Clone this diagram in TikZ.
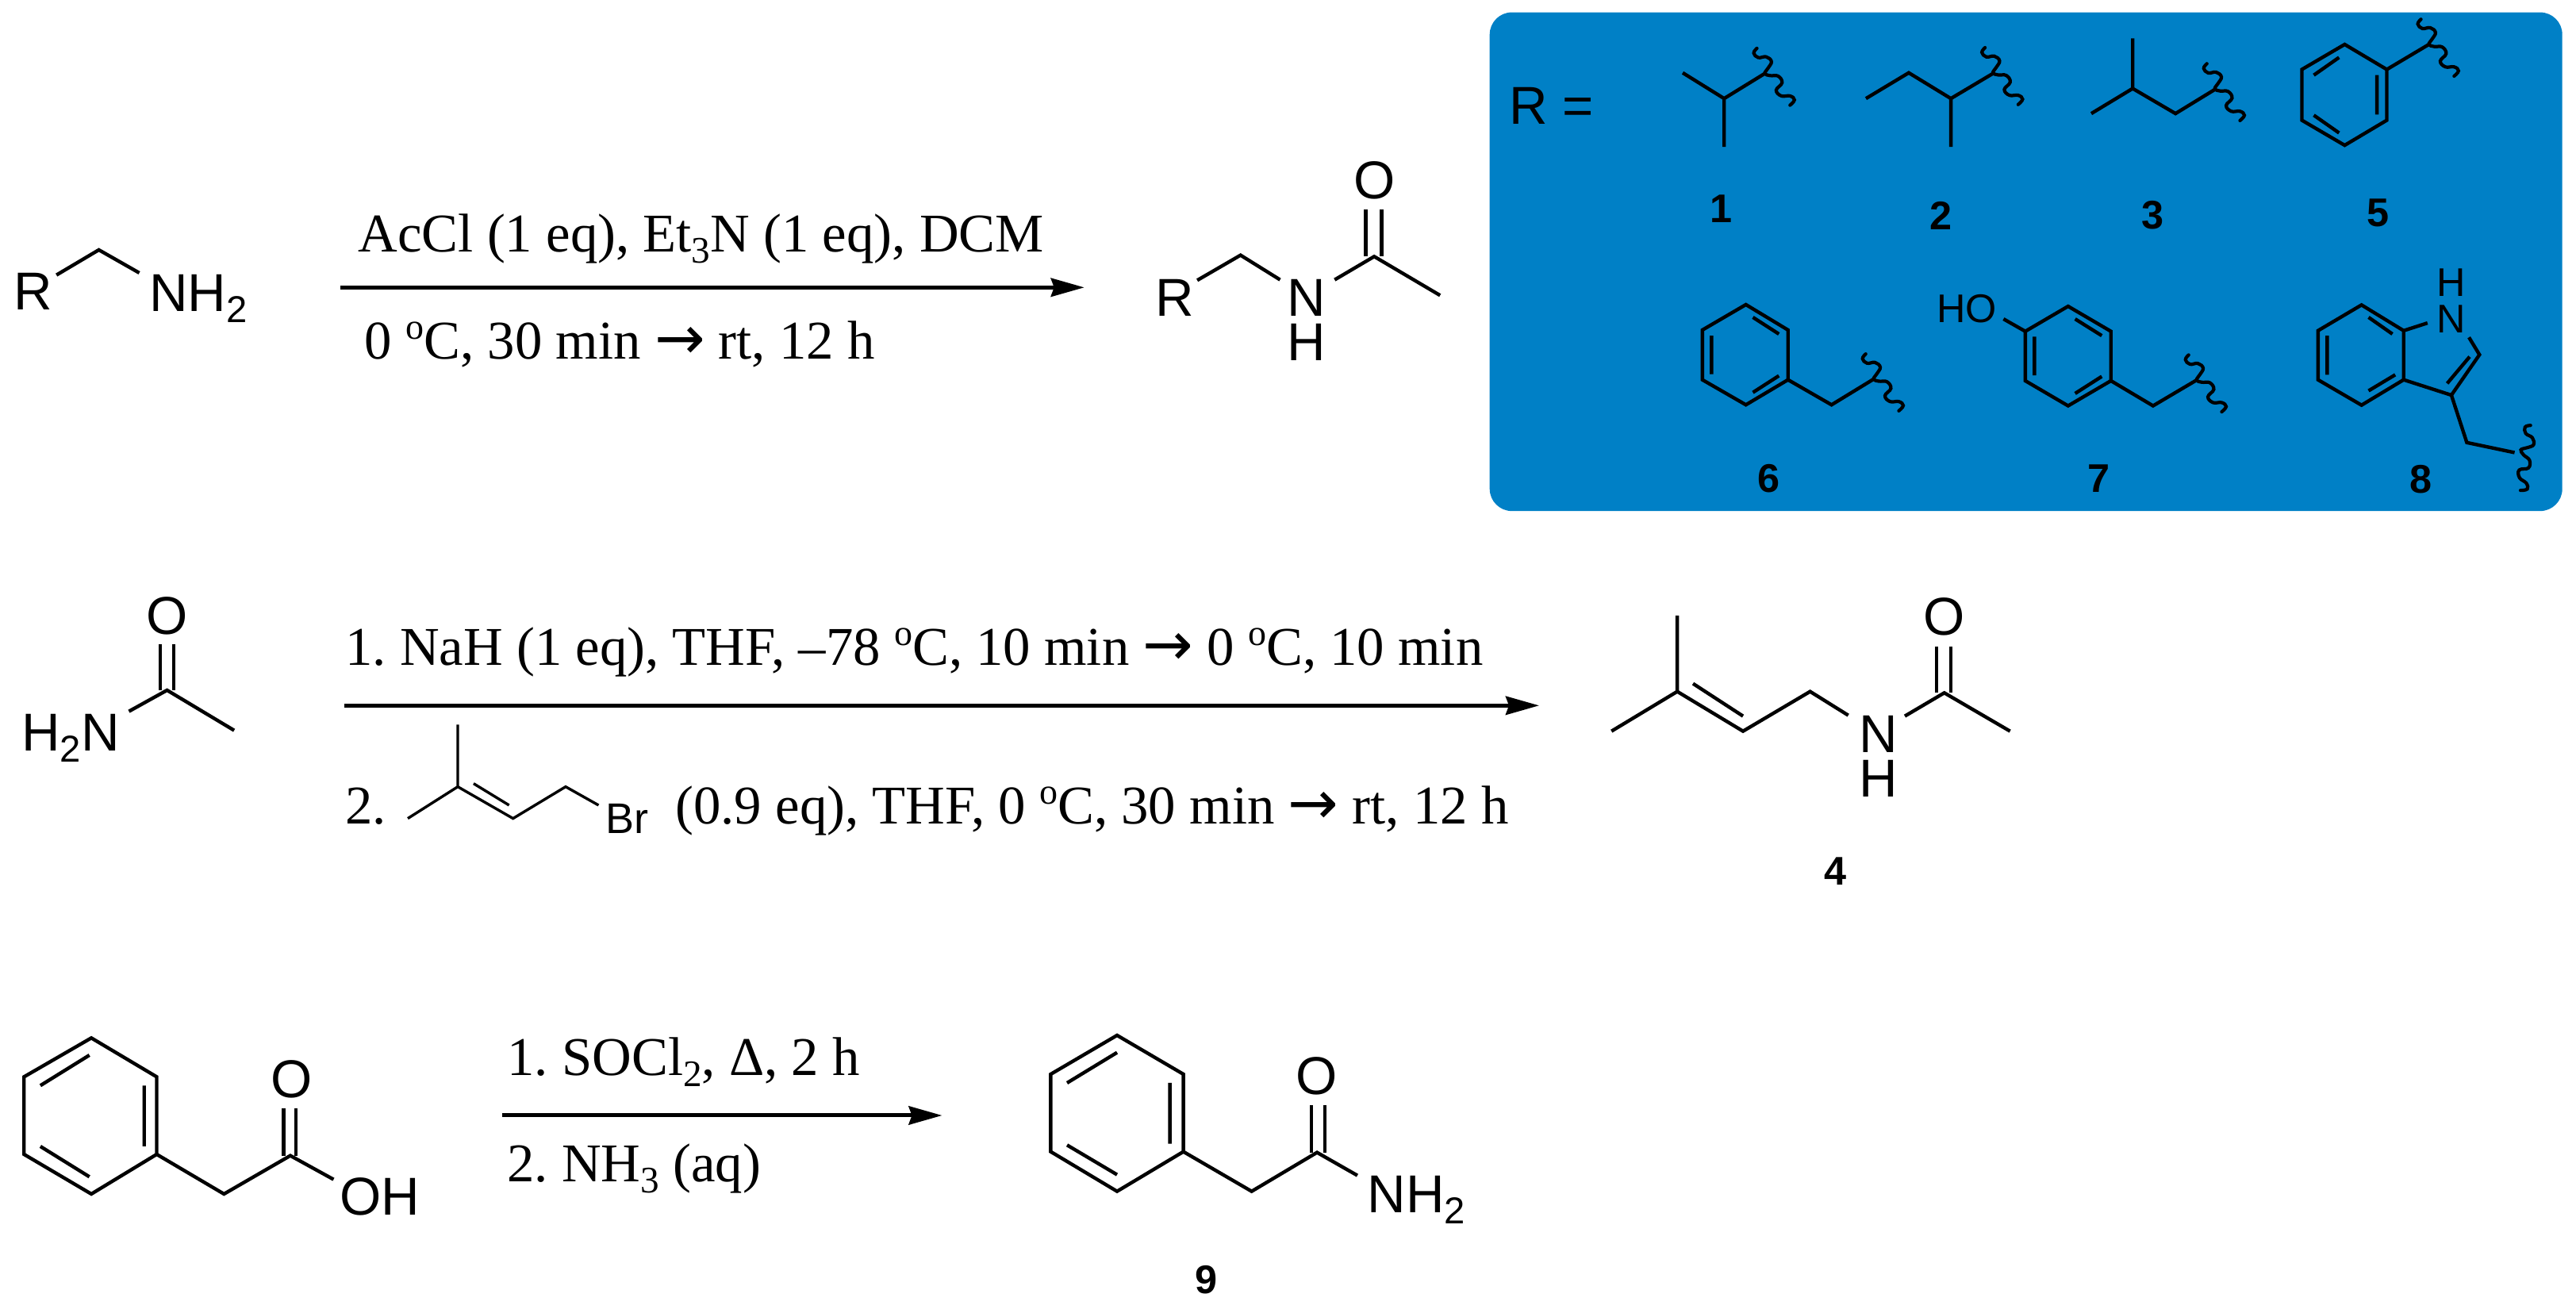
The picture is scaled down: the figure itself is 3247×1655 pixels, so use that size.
\documentclass[tikz,border=0pt]{standalone}
\usepackage{fontspec}
\setmainfont{Liberation Serif}
\newfontfamily\chemfont{Liberation Sans}
\newfontfamily\arrowfont{DejaVu Sans}
\usetikzlibrary{arrows.meta}
\definecolor{panelblue}{RGB}{0,128,198}
\frenchspacing
\newcommand{\sbs}[1]{\raisebox{-3.5pt}{\fontsize{11.8}{12}\selectfont #1}}
\newcommand{\spo}[1]{\raisebox{6.3pt}{\fontsize{11.5}{12}\selectfont #1}}
\newcommand{\rar}{{\arrowfont\fontsize{19}{20}\selectfont →}}
\newcommand{\wavy}[2][0]{\draw[wave,shift={#2},rotate=#1,x=0.25pt,y=-0.25pt] plot[smooth,tension=0.7] coordinates {(-10,-31.7) (-14,-25.7) (-8.3,-20) (1.7,-21) (8.3,-15) (4,-6.7) (0,0) (6.7,2.7) (16.7,3.3) (21.7,11.7) (14.3,21) (20.7,28.3) (31.7,28.3) (37.3,33.3) (31.7,40)};}
\tikzset{
  bond/.style={line width=1.1pt,line join=miter},
  thinbond/.style={line width=0.85pt},
  wave/.style={line width=1.05pt,line cap=round},
  rxn/.style={line width=1.25pt,-{Stealth[length=10.5pt,width=5.8pt,inset=1pt]}},
  atom/.style={font=\chemfont\fontsize{16.8}{20}\selectfont,inner sep=0pt},
  smallatom/.style={font=\chemfont\fontsize{12.6}{15}\selectfont,inner sep=0pt},
  bratom/.style={font=\chemfont\fontsize{13.5}{15}\selectfont,inner sep=0pt},
  tag/.style={font=\chemfont\bfseries\fontsize{12.6}{15}\selectfont,inner sep=0pt},
  cond/.style={font=\fontsize{17.2}{20}\selectfont,inner sep=0pt,anchor=base west},
}
\begin{document}
\begin{tikzpicture}[x=0.25pt,y=-0.25pt]
\useasboundingbox (0,0) rectangle (3247,1655);
% ---------- panel (coordinates of the panel crop)
\begin{scope}[shift={(1860,0)},x=0.2212pt,y=-0.10525pt]
\fill[panelblue,rounded corners=7pt] (20,37) rectangle (1548,1530);
\node[atom,anchor=base west] (Req) at (47,372) {R =};
% 1
\draw[bond] (295,218)--(354,295)--(412,220) (354,295)--(354,440);
\wavy{(412,220)}
\node[tag] (t1) at (350,625) {1};
% 2
\draw[bond] (556,295)--(617,218)--(677,295)--(737,220) (677,295)--(677,440);
\wavy{(737,218)}
\node[tag] (t2) at (663,645) {2};
% 3
\draw[bond] (877,340)--(936,265)--(997,340)--(1053,268) (936,265)--(936,115);
\wavy{(1053,266)}
\node[tag] (t3) at (965,645) {3};
% 5
\draw[bond] (1238,133)--(1298,208)--(1298,360)--(1238,435)--(1177,360)--(1177,208)--cycle;
\draw[bond] (1298,208)--(1358,133);
\draw[bond] (1284,225)--(1284,343) (1194,225)--(1230,172) (1194,345)--(1230,398);
\wavy{(1358,133)}
\node[tag] (t5) at (1285,638) {5};
% 6
\draw[bond] (385,912)--(445,988)--(445,1137)--(385,1212)--(323,1137)--(323,988)--cycle;
\draw[bond] (445,1137)--(507,1212)--(567,1135);
\draw[bond] (336,1005)--(336,1120) (395,950)--(432,1000) (432,1125)--(395,1175);
\wavy{(567,1135)}
\node[tag] (t6) at (418,1432) {6};
% 7
\draw[bond] (844,917)--(905,992)--(905,1140)--(844,1215)--(783,1140)--(783,992)--cycle;
\draw[bond] (905,1140)--(965,1215)--(1027,1138) (783,992)--(752,955);
\draw[bond] (796,1008)--(796,1124) (854,955)--(892,1005) (892,1127)--(854,1178);
\wavy{(1027,1138)}
\node[smallatom] (ho) at (700,925) {HO};
\node[tag] (t7) at (888,1432) {7};
% 8
\draw[bond] (1262,913)--(1322,990)--(1322,1137)--(1262,1213)--(1200,1137)--(1200,990)--cycle;
\draw[bond] (1322,990)--(1356,967) (1415,1010)--(1430,1062)--(1390,1183)--(1322,1137);
\draw[bond] (1416,1068)--(1384,1148) (1272,950)--(1306,1000) (1310,1122)--(1272,1170) (1213,1005)--(1213,1122);
\draw[bond] (1390,1183)--(1412,1325)--(1480,1355);
\wavy[-39]{(1489,1347)}
\node[smallatom] (n8) at (1390,955) {N};
\node[smallatom] (h8) at (1390,847) {H};
\node[tag] (t8) at (1347,1435) {8};
\end{scope}
% ---------- reaction 1
\begin{scope}[shift={(0,170)},x=0.2966pt,y=-0.08333pt]
\node[atom] (r1) at (35,593) {R};
\draw[bond] (60,530)--(105,435)--(148,522);
\node[atom,anchor=base west] (nh1) at (158,668) {NH\sbs{2}};
\coordinate (a1s) at (362,577);
\coordinate (a1e) at (1152,577);
\draw[rxn] (a1s)--(a1e);
\node[cond] (c1a) at (380,443) {AcCl (1 eq), Et\sbs{3}N (1 eq), DCM};
\node[cond] (c1b) at (387,848) {0 \spo{o}C, 30 min \rar{} rt, 12 h};
\node[atom] (r2) at (1248,615) {R};
\draw[bond] (1272,550)--(1318,455)--(1360,548);
\node[atom] (n2) at (1388,615) {N};
\node[atom] (h2) at (1388,785) {H};
\draw[bond] (1418,548)--(1460,460)--(1530,607);
\draw[bond] (1451,460)--(1451,282) (1468,460)--(1468,282);
\node[atom] (o2) at (1460,172) {O};
\end{scope}
% ---------- reaction 2
\begin{scope}[shift={(0,720)},x=0.41454pt,y=-0.08333pt]
\node[atom] (o3) at (127,168) {O};
\draw[bond] (122,450)--(122,275) (132,450)--(132,275);
\draw[bond] (98,530)--(127,450)--(178,602);
\node[atom,anchor=base west] (h2n) at (16,680) {H\sbs{2}N};
\coordinate (a2s) at (262,508);
\coordinate (a2e) at (1170,508);
\draw[rxn] (a2s)--(a2e);
\node[cond] (c2a) at (262,355) {1. NaH (1 eq), THF, --78 \spo{o}C, 10 min \rar{} 0 \spo{o}C, 10 min};
\node[cond] (c2b) at (262,955) {2.};
\draw[thinbond] (310,935)--(348,815)--(390,935)--(430,815)--(455,885) (348,815)--(348,580) (360,803)--(387,885);
\node[bratom,anchor=base west] (br) at (460,992) {Br};
\node[cond] (c2c) at (513,955) {(0.9 eq), THF, 0 \spo{o}C, 30 min \rar{} rt, 12 h};
\draw[bond] (1225,605)--(1275,455)--(1325,605)--(1376,455)--(1405,545) (1275,455)--(1275,168) (1287,425)--(1325,548);
\node[atom] (n4) at (1428,615) {N};
\node[atom] (h4) at (1428,785) {H};
\draw[bond] (1448,548)--(1478,460)--(1528,605);
\draw[bond] (1472,460)--(1472,285) (1483,460)--(1483,285);
\node[atom] (o4) at (1478,172) {O};
\node[tag] (t4) at (1395,1135) {4};
\end{scope}
% ---------- reaction 3
\begin{scope}[shift={(0,1270)},x=0.30293pt,y=-0.08333pt]
\draw[bond] (95,115)--(163,262)--(163,555)--(95,705)--(25,555)--(25,262)--cycle;
\draw[bond] (150,295)--(150,525) (42,295)--(93,180) (42,525)--(93,640);
\draw[bond] (163,555)--(233,705)--(302,560)--(347,650);
\draw[bond] (295,560)--(295,380) (308,560)--(308,380);
\node[atom] (o5) at (303,270) {O};
\node[atom,anchor=base west] (oh) at (353,785) {OH};
\coordinate (a3s) at (522,408);
\coordinate (a3e) at (980,408);
\draw[rxn] (a3s)--(a3e);
\node[cond] (c3a) at (527,258) {1. SOCl\sbs{2}, Δ, 2 h};
\node[cond] (c3b) at (527,658) {2. NH\sbs{3} (aq)};
\draw[bond] (1162,105)--(1231,252)--(1231,545)--(1162,695)--(1093,545)--(1093,252)--cycle;
\draw[bond] (1217,285)--(1217,515) (1110,285)--(1162,170) (1110,520)--(1162,632);
\draw[bond] (1231,545)--(1302,695)--(1370,548)--(1412,635);
\draw[bond] (1364,548)--(1364,370) (1378,548)--(1378,370);
\node[atom] (o6) at (1370,260) {O};
\node[atom,anchor=base west] (nh3) at (1422,775) {NH\sbs{2}};
\node[tag] (t9) at (1255,1030) {9};
\end{scope}
\end{tikzpicture}
\end{document}
